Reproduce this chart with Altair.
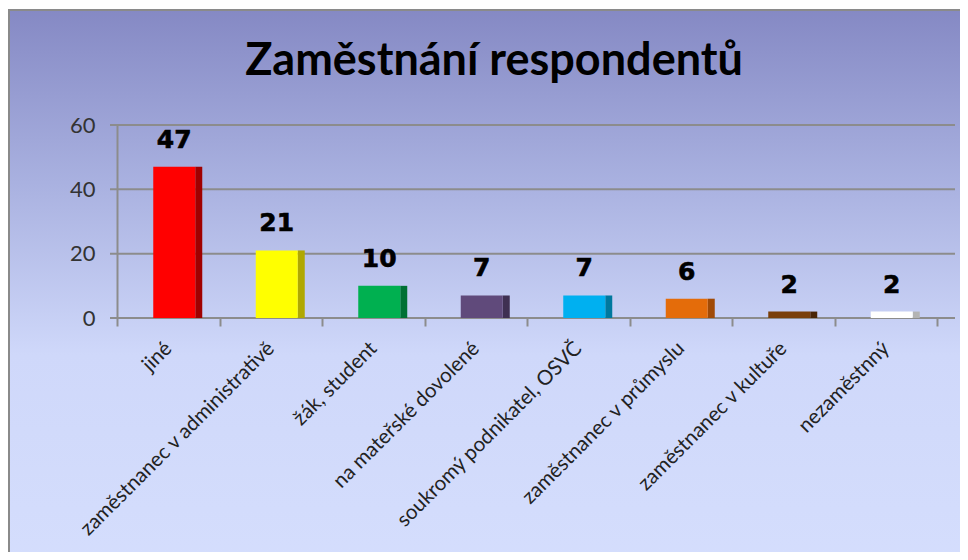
import altair as alt
import pandas as pd

title_text = "Zaměstnání respondentů"
categories = [
    "jiné",
    "zaměstnanec v administrativě",
    "žák, student",
    "na mateřské dovolené",
    "soukromý podnikatel, OSVČ",
    "zaměstnanec v průmyslu",
    "zaměstnanec v kultuře",
    "nezaměstnný",
]
values = [47, 21, 10, 7, 7, 6, 2, 2]
front_colors = ["#ff0000", "#ffff00", "#00b050", "#604a7b", "#00b0f0", "#e46c0a", "#7a3f0a", "#ffffff"]
side_colors = ["#a00000", "#b0a800", "#007033", "#3f3052", "#00789e", "#a04a06", "#4a2505", "#b4b4b4"]
y_ticks = [0, 20, 40, 60]

df = pd.DataFrame({"cat": categories, "val": values, "front": front_colors, "side": side_colors})
grid_df = pd.DataFrame({"v": y_ticks})
one = pd.DataFrame({"a": [0]})

W, H = 838, 193
GRID = "#8c8c8c"
xscale = alt.Scale(domain=categories, range=[0, 820], paddingInner=0, paddingOuter=0)
yscale = alt.Scale(domain=[0, 60])

x_axis = alt.Axis(
    title=None, labelAngle=-45, labelAlign="right", labelBaseline="middle",
    labelFont="Lato", labelFontSize=20.5, labelColor="#222222", labelLimit=500,
    labelOverlap=False, labelPadding=19, tickBand="extent", tickSize=8,
    tickColor=GRID, tickWidth=2, domain=False, zindex=1)
y_axis = alt.Axis(
    title=None, values=y_ticks, grid=False, ticks=False, domainColor=GRID,
    domainWidth=2, labelFont="Lato", labelFontSize=22, labelColor="#333333",
    labelPadding=22, zindex=1)

bg = alt.Chart(one).mark_rect(
    fill=alt.LinearGradient(
        gradient="linear", x1=0, x2=0, y1=0, y2=1,
        stops=[
            alt.GradientStop(color="#8589c4", offset=0),
            alt.GradientStop(color="#a9b1e0", offset=0.3),
            alt.GradientStop(color="#cfd8fa", offset=0.6),
            alt.GradientStop(color="#d5defd", offset=1),
        ],
    ),
    stroke="#8a8a8a", strokeWidth=2,
).encode(x=alt.value(-108), x2=alt.value(900), y=alt.value(-115), y2=alt.value(460))

grid = alt.Chart(grid_df).mark_rule(color=GRID, strokeWidth=2).encode(
    y=alt.Y("v:Q", scale=yscale, axis=y_axis),
    x=alt.value(-7), x2=alt.value(W),
)

side = alt.Chart(df).mark_bar(size=7, xOffset=30.5).encode(
    x=alt.X("cat:N", scale=xscale, sort=None, axis=x_axis),
    y=alt.Y("val:Q", scale=yscale, axis=y_axis),
    fill=alt.Fill("side:N", scale=None),
)

front = alt.Chart(df).mark_bar(size=42, xOffset=6).encode(
    x=alt.X("cat:N", scale=xscale, sort=None, axis=x_axis),
    y=alt.Y("val:Q", scale=yscale, axis=y_axis),
    fill=alt.Fill("front:N", scale=None),
)

labels = alt.Chart(df).mark_text(
    font="DejaVu Sans", fontWeight="bold", fontSize=25, baseline="alphabetic",
    dy=-19, xOffset=6, color="black", stroke="black", strokeWidth=0.6,
).encode(
    x=alt.X("cat:N", scale=xscale, sort=None, axis=x_axis),
    y=alt.Y("val:Q", scale=yscale, axis=y_axis),
    text=alt.Text("val:Q"),
)

title = alt.Chart(one).mark_text(
    text=title_text, font="Lato", fontWeight="bold", fontSize=45,
    baseline="alphabetic", align="center", color="black",
).encode(x=alt.value(377), y=alt.value(-50))

chart = alt.layer(bg, grid, side, front, labels, title).properties(
    width=W, height=H,
    padding={"left": 109, "top": 117, "right": 5, "bottom": 234},
    autosize=alt.AutoSizeParams(type="none"),
).configure_view(stroke=None)

chart.save("out.html", embed_options={"renderer": "svg", "actions": False})
